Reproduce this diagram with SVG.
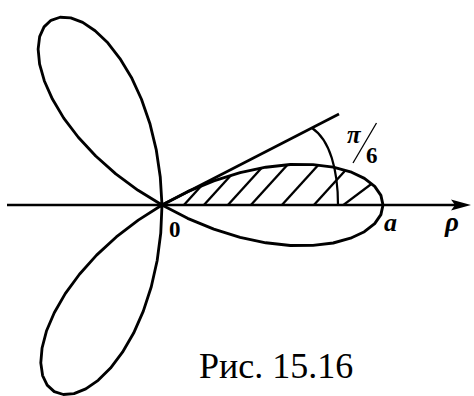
<svg xmlns="http://www.w3.org/2000/svg" xmlns:xlink="http://www.w3.org/1999/xlink" width="474" height="396" viewBox="0 0 474 396">
<style>
.curve{fill:none;stroke:#000;stroke-width:2.9;stroke-linejoin:round;stroke-linecap:round}
.line{fill:none;stroke:#000;stroke-linecap:butt}
.hatch{fill:none;stroke:#000;stroke-width:2.3}
.lbl{font-family:"Liberation Serif","Times New Roman",serif;font-weight:bold;fill:#000}
.it{font-style:italic}
.cap{font-family:"Liberation Serif","Times New Roman",serif;fill:#000}
</style>
<defs>
<path id="petal" d="M162,205 L187.6,218.3 L213.8,229.2 L240.1,237.4 L265.8,242.8 L290.3,245.5 L313,245.4 L333.2,243 L350.5,238.2 L364.4,231.7 L374.7,223.6 L380.9,214.6 L383,205 L380.9,195.4 L374.7,186.4 L364.4,178.4 L350.5,171.8 L333.2,167.1 L313,164.6 L290.3,164.5 L265.8,167.2 L240.1,172.6 L213.8,180.8 L187.6,191.7 Z"/>
<clipPath id="half">
<path d="M162,205 L187.6,191.7 L213.8,180.8 L240.1,172.6 L265.8,167.2 L290.3,164.5 L313,164.6 L333.2,167.1 L350.5,171.8 L364.4,178.4 L374.7,186.4 L380.9,195.4 L383,205 Z"/>
</clipPath>
</defs>
<g id="hatching" clip-path="url(#half)">
<line class="hatch" x1="183" y1="206" x2="243" y2="140"/>
<line class="hatch" x1="203" y1="206" x2="263" y2="140"/>
<line class="hatch" x1="227" y1="206" x2="287" y2="140"/>
<line class="hatch" x1="250" y1="206" x2="310" y2="140"/>
<line class="hatch" x1="281" y1="206" x2="341" y2="140"/>
<line class="hatch" x1="313" y1="206" x2="373" y2="140"/>
<line class="hatch" x1="342" y1="206" x2="382" y2="176"/>
</g>
<g id="rose">
<use xlink:href="#petal" class="curve"/>
<use xlink:href="#petal" class="curve" transform="translate(162 205) rotate(-121) scale(0.975) translate(-162 -205)"/>
<use xlink:href="#petal" class="curve" transform="translate(162 205) rotate(120) scale(0.975) translate(-162 -205)"/>
</g>
<g id="axis">
<line class="line" x1="7" y1="205" x2="456" y2="205" stroke-width="2.6"/>
<path d="M471,205 L451,199.5 L455,205 L451,210.5 Z" fill="#000"/>
</g>
<g id="ray">
<line class="line" x1="162" y1="205" x2="339" y2="114" stroke-width="2.6"/>
</g>
<g id="angle-arc">
<path class="line" d="M312,128 C330,140 338,170 338,205" stroke-width="2.2"/>
</g>
<g id="labels">
<text class="lbl" x="169" y="237" font-size="23">0</text>
<text class="lbl it" x="384" y="231" font-size="26">a</text>
<text class="lbl it" x="445" y="231" font-size="27">ρ</text>
<text class="lbl it" x="347" y="143" font-size="25">π</text>
<line class="line" x1="376.5" y1="123" x2="353" y2="163" stroke-width="1.3"/>
<text class="lbl" x="366" y="163" font-size="23">6</text>
<text class="cap" x="199" y="378" font-size="36">Рис. 15.16</text>
</g>
</svg>
